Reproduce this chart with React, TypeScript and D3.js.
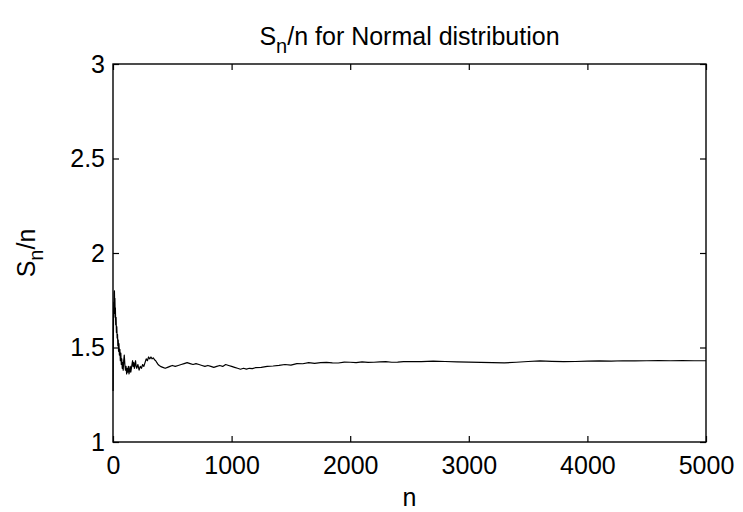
import React, { useEffect, useRef } from "react";
import * as d3 from "d3";

// running average S_n / n
const nValues = [
  1, 2, 4, 6, 8, 10, 12, 14, 16, 18, 20, 23, 26, 29, 32, 35, 38, 41, 44, 47,
  50, 54, 58, 62, 66, 70, 74, 78, 82, 86, 90, 95, 100, 105, 110, 115, 120, 125,
  130, 135, 140, 145, 150, 155, 160, 165, 170, 175, 180, 185, 190, 195, 200,
  210, 220, 230, 240, 250, 260, 270, 280, 290, 300, 310, 320, 330, 340, 350,
  360, 370, 380, 390, 400, 420, 440, 460, 480, 500, 525, 550, 575, 600, 625,
  650, 675, 700, 725, 750, 775, 800, 825, 850, 875, 900, 925, 950, 975, 1000,
  1025, 1050, 1075, 1100, 1125, 1150, 1175, 1200, 1250, 1300, 1350, 1400, 1450,
  1500, 1550, 1600, 1650, 1700, 1750, 1800, 1850, 1900, 1950, 2000, 2050, 2100,
  2150, 2200, 2250, 2300, 2350, 2400, 2450, 2500, 2600, 2700, 2800, 2900, 3000,
  3100, 3200, 3300, 3400, 3500, 3600, 3700, 3800, 3900, 4000, 4100, 4200, 4300,
  4400, 4500, 4600, 4700, 4800, 4900, 5000,
];

const ratioValues = [
  1.27, 1.45, 1.62, 1.74, 1.66, 1.79, 1.8, 1.72, 1.76, 1.68, 1.71, 1.62, 1.66,
  1.58, 1.61, 1.55, 1.57, 1.51, 1.54, 1.48, 1.52, 1.46, 1.49, 1.43, 1.47, 1.41,
  1.44, 1.39, 1.42, 1.38, 1.43, 1.46, 1.41, 1.38, 1.4, 1.36, 1.39, 1.37, 1.4,
  1.36, 1.38, 1.4, 1.37, 1.39, 1.41, 1.43, 1.4, 1.42, 1.39, 1.41, 1.43, 1.4,
  1.39, 1.41, 1.38, 1.4, 1.39, 1.41, 1.4, 1.42, 1.44, 1.43, 1.45, 1.44, 1.45,
  1.44, 1.445, 1.435, 1.43, 1.42, 1.41, 1.405, 1.4, 1.395, 1.39, 1.395, 1.4,
  1.405, 1.4, 1.405, 1.41, 1.415, 1.42, 1.415, 1.41, 1.415, 1.41, 1.405, 1.4,
  1.405, 1.4, 1.395, 1.4, 1.405, 1.4, 1.41, 1.405, 1.4, 1.395, 1.39, 1.385,
  1.39, 1.386, 1.39, 1.388, 1.393, 1.395, 1.4, 1.402, 1.405, 1.41, 1.407, 1.415,
  1.414, 1.42, 1.416, 1.42, 1.421, 1.419, 1.418, 1.423, 1.422, 1.42, 1.424,
  1.421, 1.422, 1.424, 1.425, 1.422, 1.423, 1.425, 1.426, 1.425, 1.428, 1.426,
  1.424, 1.423, 1.421, 1.42, 1.419, 1.422, 1.426, 1.429, 1.427, 1.425, 1.426,
  1.428, 1.429, 1.428, 1.43, 1.429, 1.43, 1.431, 1.43, 1.431, 1.43, 1.43,
];

const xTicks = [0, 1000, 2000, 3000, 4000, 5000];
const yTicks = [1, 1.5, 2, 2.5, 3];

const FONT = "'Liberation Sans', Arial, Helvetica, sans-serif";
const FONT_SIZE = "25px";

const App = () => {
  const svgRef = useRef<SVGSVGElement>(null);

  useEffect(() => {
    const root = d3.select(svgRef.current);
    root.selectAll("*").remove();

    const margin = { top: 64, right: 37, bottom: 70, left: 113 };
    const width = 743 - margin.left - margin.right;
    const height = 512 - margin.top - margin.bottom;

    const svg = root
      .append("g")
      .attr("transform", `translate(${margin.left},${margin.top})`);

    const x = d3.scaleLinear().domain([0, 5000]).range([0, width]);
    const y = d3.scaleLinear().domain([1, 3]).range([height, 0]);

    // bottom axis, ticks pointing inward
    const xAxis = svg
      .append("g")
      .attr("transform", `translate(0,${height})`)
      .call(
        d3
          .axisBottom(x)
          .tickValues(xTicks)
          .tickSize(-6)
          .tickSizeOuter(0)
          .tickPadding(14)
          .tickFormat((d) => String(d))
      );
    // top axis (ticks only)
    const xTop = svg
      .append("g")
      .call(d3.axisTop(x).tickValues(xTicks).tickSize(-6).tickSizeOuter(0).tickFormat(() => ""));

    const yAxis = svg
      .append("g")
      .call(
        d3
          .axisLeft(y)
          .tickValues(yTicks)
          .tickSize(-6)
          .tickSizeOuter(0)
          .tickPadding(8)
          .tickFormat((d) => String(d))
      );
    const yRight = svg
      .append("g")
      .attr("transform", `translate(${width},0)`)
      .call(d3.axisRight(y).tickValues(yTicks).tickSize(-6).tickSizeOuter(0).tickFormat(() => ""));

    [xAxis, xTop, yAxis, yRight].forEach((g) => {
      g.select(".domain").remove();
      g.selectAll("line").attr("stroke", "#000").attr("stroke-width", 1.2);
      g.selectAll("text")
        .attr("fill", "#000")
        .style("font-family", FONT)
        .style("font-size", FONT_SIZE);
    });

    // axes box
    svg
      .append("rect")
      .attr("width", width)
      .attr("height", height)
      .attr("fill", "none")
      .attr("stroke", "#000")
      .attr("stroke-width", 1.4);

    const points = nValues.map((n, i) => [n, ratioValues[i]] as [number, number]);
    const line = d3
      .line<[number, number]>()
      .x((d) => x(d[0]))
      .y((d) => y(d[1]));

    svg
      .append("path")
      .datum(points)
      .attr("d", line)
      .attr("fill", "none")
      .attr("stroke", "#000")
      .attr("stroke-width", 1.2)
      .attr("stroke-linejoin", "round");

    // title
    const title = svg
      .append("text")
      .attr("x", width / 2)
      .attr("y", -19)
      .attr("text-anchor", "middle")
      .style("font-family", FONT)
      .style("font-size", FONT_SIZE)
      .attr("fill", "#000");
    title.append("tspan").text("S");
    title.append("tspan").attr("dy", 8).style("font-size", "20px").text("n");
    title.append("tspan").attr("dy", -8).text("/n for Normal distribution");

    // x label
    svg
      .append("text")
      .attr("x", width / 2)
      .attr("y", height + 64)
      .attr("text-anchor", "middle")
      .style("font-family", FONT)
      .style("font-size", FONT_SIZE)
      .attr("fill", "#000")
      .text("n");

    // y label
    const yl = svg
      .append("text")
      .attr("transform", `translate(${-78},${height / 2}) rotate(-90)`)
      .attr("text-anchor", "middle")
      .style("font-family", FONT)
      .style("font-size", FONT_SIZE)
      .attr("fill", "#000");
    yl.append("tspan").text("S");
    yl.append("tspan").attr("dy", 8).style("font-size", "20px").text("n");
    yl.append("tspan").attr("dy", -8).text("/n");
  }, []);

  return (
    <svg
      ref={svgRef}
      width={743}
      height={512}
      style={{ position: "absolute", left: 0, top: 0, background: "#fff" }}
    ></svg>
  );
};

export default App;
